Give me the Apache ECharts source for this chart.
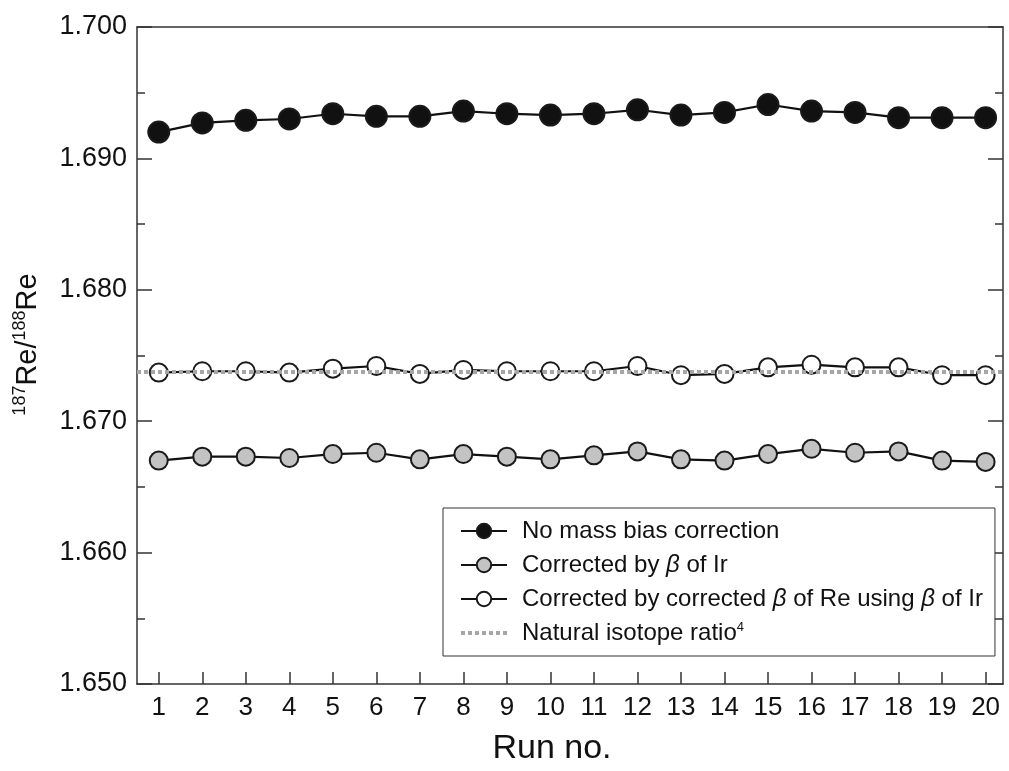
<!DOCTYPE html>
<html>
<head>
<meta charset="utf-8">
<script src="https://cdn.jsdelivr.net/npm/echarts@6/dist/echarts.min.js"></script>
<style>
  html, body { margin: 0; padding: 0; background: #fff; }
  #chart { width: 1009px; height: 771px; }
</style>
</head>
<body>
<div id="chart"></div>
<script>
const runs = [1, 2, 3, 4, 5, 6, 7, 8, 9, 10, 11, 12, 13, 14, 15, 16, 17, 18, 19, 20];

const noCorrection = [1.6920, 1.6927, 1.6929, 1.6930, 1.6934, 1.6932, 1.6932, 1.6936, 1.6934, 1.6933,
  1.6934, 1.6937, 1.6933, 1.6935, 1.6941, 1.6936, 1.6935, 1.6931, 1.6931, 1.6931];
const byIr = [1.6670, 1.6673, 1.6673, 1.6672, 1.6675, 1.6676, 1.6671, 1.6675, 1.6673, 1.6671,
  1.6674, 1.6677, 1.6671, 1.6670, 1.6675, 1.6679, 1.6676, 1.6677, 1.6670, 1.6669];
const byReUsingIr = [1.6737, 1.6738, 1.6738, 1.6737, 1.6740, 1.6742, 1.6736, 1.6739, 1.6738, 1.6738,
  1.6738, 1.6742, 1.6735, 1.6736, 1.6741, 1.6743, 1.6741, 1.6741, 1.6735, 1.6735];
const naturalRatio = 1.6738;

const FONT = 'Liberation Sans, Arial, sans-serif';
const DOT_STYLE = { color: '#a6a6a6', width: 4, type: [4, 3] };

const chart = echarts.init(document.getElementById('chart'));

function pairs(values) {
  return runs.map((r, i) => [r, values[i]]);
}

function markerSeries(name, values, fill, size) {
  return {
    name: name,
    type: 'line',
    data: pairs(values),
    symbol: 'circle',
    symbolSize: size,
    lineStyle: { color: '#111', width: 2.2 },
    itemStyle: { color: fill, borderColor: '#1a1a1a', borderWidth: 2 },
    z: 3
  };
}

const option = {
  animation: false,
  backgroundColor: '#fff',
  grid: { left: 137, right: 6, top: 27, bottom: 82 },
  xAxis: [{
    type: 'value',
    min: 0.5,
    max: 20.4,
    name: 'Run no.',
    nameLocation: 'middle',
    nameGap: 48,
    nameTextStyle: { fontFamily: FONT, fontSize: 34, color: '#111', padding: [0, 36, 0, 0] },
    axisLine: { show: true, lineStyle: { color: '#333', width: 1.5 } },
    axisTick: { show: true, inside: true, length: 12, customValues: runs, lineStyle: { color: '#333', width: 1.5 } },
    axisLabel: { customValues: runs, fontFamily: FONT, fontSize: 26, color: '#111', margin: 11 },
    splitLine: { show: false }
  }, {
    type: 'value',
    position: 'top',
    min: 0.5,
    max: 20.4,
    axisLine: { show: true, onZero: false, lineStyle: { color: '#333', width: 1.5 } },
    axisTick: { show: false },
    axisLabel: { show: false },
    splitLine: { show: false }
  }],
  yAxis: [{
    type: 'value',
    min: 1.650,
    max: 1.700,
    interval: 0.01,
    name: '{sup|187}{b|Re/}{sup|188}{b|Re}',
    nameLocation: 'middle',
    nameGap: 92,
    nameTextStyle: {
      fontFamily: FONT, color: '#111', padding: [0, 0, 0, 22],
      rich: {
        b: { fontFamily: FONT, fontSize: 29, color: '#111', lineHeight: 34 },
        sup: { fontFamily: FONT, fontSize: 18, color: '#111', lineHeight: 20, verticalAlign: 'top' }
      }
    },
    axisLine: { show: true, lineStyle: { color: '#333', width: 1.5 } },
    axisTick: { show: true, inside: true, length: 15, lineStyle: { color: '#333', width: 1.5 } },
    minorTick: { show: true, splitNumber: 2, length: 8, lineStyle: { color: '#333', width: 1.5 } },
    axisLabel: {
      fontFamily: FONT, fontSize: 27, color: '#111', margin: 10,
      formatter: v => v.toFixed(3)
    },
    splitLine: { show: false }
  }, {
    type: 'value',
    position: 'right',
    min: 1.650,
    max: 1.700,
    interval: 0.01,
    axisLine: { show: true, onZero: false, lineStyle: { color: '#333', width: 1.5 } },
    axisTick: { show: true, inside: true, length: 15, lineStyle: { color: '#333', width: 1.5 } },
    minorTick: { show: true, splitNumber: 2, length: 8, lineStyle: { color: '#333', width: 1.5 } },
    axisLabel: { show: false },
    splitLine: { show: false }
  }],
  legend: {
    left: 443,
    top: 508,
    orient: 'vertical',
    align: 'left',
    padding: [11, 12, 11, 16],
    itemGap: 10,
    itemWidth: 46,
    itemHeight: 18,
    backgroundColor: '#fff',
    borderColor: '#333',
    borderWidth: 1,
    borderRadius: 0,
    textStyle: {
      fontFamily: FONT, fontSize: 24, color: '#111', padding: [0, 0, 0, 10],
      rich: {
        t: { fontFamily: FONT, fontSize: 24, color: '#111' },
        i: { fontFamily: FONT, fontSize: 24, color: '#111', fontStyle: 'italic' },
        s: { fontFamily: FONT, fontSize: 13, color: '#111', verticalAlign: 'top', lineHeight: 15 }
      }
    },
    formatter: function (name) {
      if (name === 'Corrected by β of Ir') return '{t|Corrected by }{i|β}{t| of Ir}';
      if (name === 'Corrected by corrected β of Re using β of Ir') return '{t|Corrected by corrected }{i|β}{t| of Re using }{i|β}{t| of Ir}';
      if (name === 'Natural isotope ratio4') return '{t|Natural isotope ratio}{s|4}';
      return '{t|' + name + '}';
    },
    data: [
      'No mass bias correction',
      'Corrected by β of Ir',
      'Corrected by corrected β of Re using β of Ir',
      { name: 'Natural isotope ratio4', itemStyle: { opacity: 0 }, lineStyle: DOT_STYLE }
    ]
  },
  series: [
    {
      name: 'Natural isotope ratio4',
      type: 'line',
      data: [],
      symbol: 'none',
      lineStyle: DOT_STYLE,
      itemStyle: { color: '#a6a6a6' },
      markLine: {
        silent: true,
        symbol: 'none',
        precision: 4,
        label: { show: false },
        lineStyle: DOT_STYLE,
        data: [{ yAxis: naturalRatio }]
      },
      z: 1
    },
    markerSeries('No mass bias correction', noCorrection, '#111', 21),
    markerSeries('Corrected by β of Ir', byIr, '#c3c3c3', 18),
    markerSeries('Corrected by corrected β of Re using β of Ir', byReUsingIr, '#fff', 18)
  ]
};

chart.setOption(option);
</script>
</body>
</html>
